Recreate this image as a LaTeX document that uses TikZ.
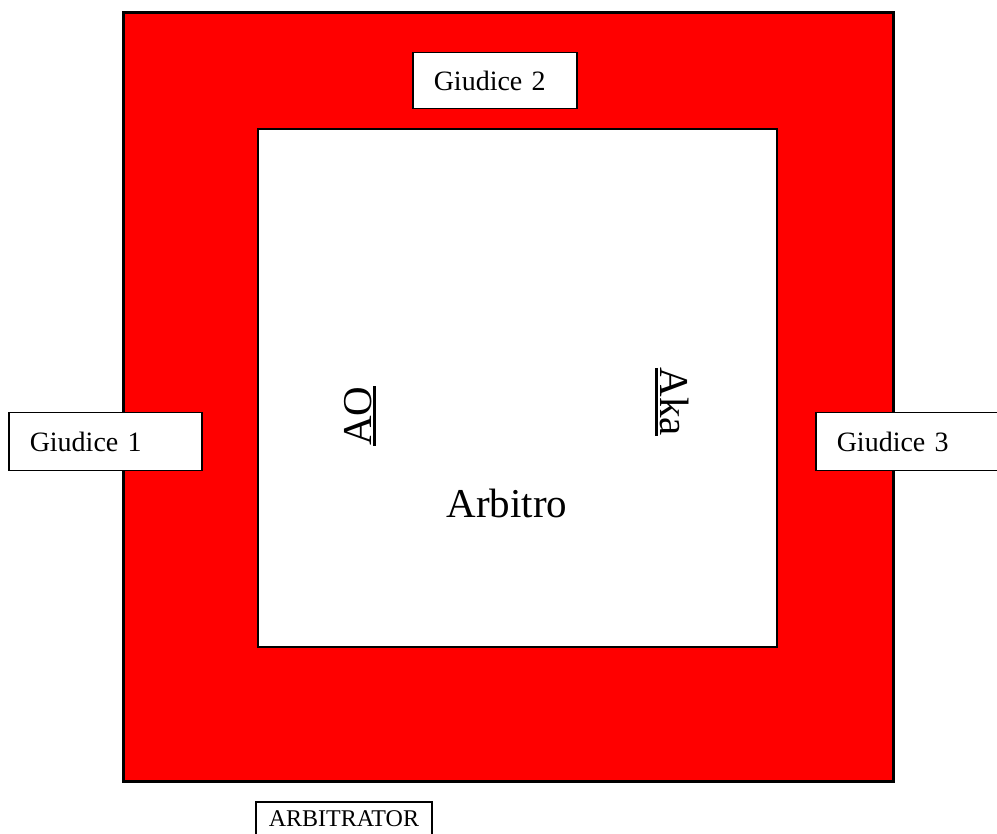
\documentclass[tikz,border=0pt]{standalone}
\usepackage{fontspec}
\setmainfont{Liberation Serif}
\newcommand{\heavyul}[1]{\setbox0\hbox{#1}\leavevmode\rlap{\rule[-5pt]{\wd0}{3pt}}\box0}

\begin{document}
\begin{tikzpicture}[x=1pt, y=-1pt,
  judge/.style={draw, line width=1.5pt, fill=white, anchor=north west,
    align=left, inner xsep=21pt, font=\fontsize{28}{30}\selectfont},
  side/.style={inner sep=1pt, font=\fontsize{41}{44}\selectfont}]
  \clip (0,0) rectangle (997,834);

  % Tatami (red area)
  \draw[fill=red, line width=3pt] (123,13) rectangle (893,781);

  % Competition area
  \draw[fill=white, line width=2pt] (258,129) rectangle (777,647);

  % Judges
  \node[judge, text width=122pt, minimum height=56pt] (giudice2) at (412,52) {Giudice 2};
  \node[judge, text width=151pt, minimum height=58pt] (giudice1) at (8,412) {Giudice 1};
  \node[judge, text width=150pt, minimum height=58pt] (giudice3) at (815,412) {Giudice 3};

  % Competitors
  \node[side, rotate=90] (ao) at (360,416) {\heavyul{AO}};
  \node[side, rotate=-90] (aka) at (672,402) {\heavyul{Aka}};

  % Referee
  \node[side, anchor=base] (arbitro) at (507,517) {Arbitro};

  % Arbitrator
  \node[draw, line width=1.5pt, anchor=north west, align=left, inner xsep=13pt,
    inner ysep=9pt, text depth=30pt, font=\fontsize{24}{26}\selectfont]
    (arbitrator) at (255,801) {ARBITRATOR};
\end{tikzpicture}
\end{document}
